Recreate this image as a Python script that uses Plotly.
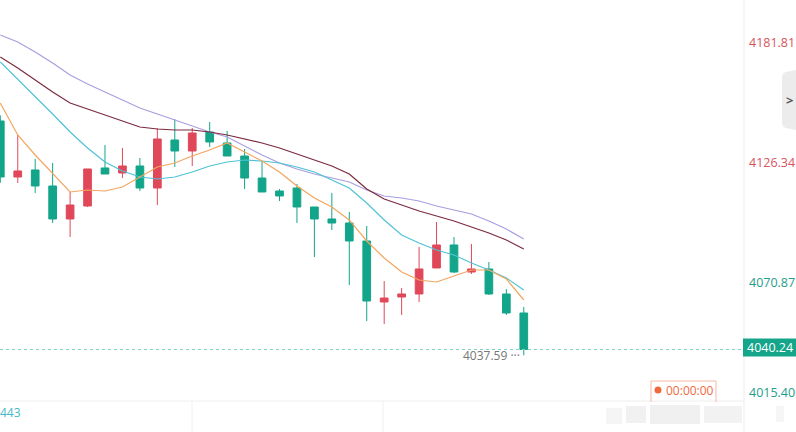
import plotly.graph_objects as go

W, H = 796, 432

# ---------------- data ----------------
idx = list(range(31))
opens = [4145.46, 4119.67, 4122.90, 4115.53, 4100.34, 4106.32, 4123.82, 4121.51, 4124.74, 4114.61,
         4136.71, 4131.64, 4140.39, 4135.33, 4129.34, 4119.21, 4113.23, 4114.61, 4105.86, 4100.34,
         4098.49, 4090.21, 4062.12, 4064.42, 4065.81, 4077.78, 4088.37, 4075.93, 4077.32, 4065.81,
         4057.06]
highs = [4148.00, 4139.01, 4127.96, 4126.12, 4112.77, 4123.36, 4134.41, 4133.02, 4128.42, 4142.23,
         4146.38, 4142.23, 4145.00, 4140.85, 4132.56, 4127.04, 4114.15, 4116.45, 4105.86, 4112.31,
         4103.56, 4097.11, 4071.79, 4068.57, 4087.44, 4098.95, 4092.05, 4088.83, 4080.54, 4068.11,
         4059.82]
lows = [4117.00, 4116.91, 4112.31, 4098.49, 4092.05, 4105.86, 4121.05, 4119.21, 4113.23, 4106.78,
        4124.28, 4124.74, 4133.49, 4129.34, 4114.15, 4112.77, 4108.62, 4098.49, 4082.84, 4095.27,
        4069.95, 4053.37, 4051.99, 4056.14, 4062.12, 4077.78, 4075.47, 4075.01, 4065.35, 4056.14,
        4037.59]
closes = [4119.67, 4122.44, 4115.53, 4100.34, 4106.78, 4123.36, 4121.05, 4124.74, 4114.61, 4137.17,
          4131.64, 4139.93, 4135.79, 4129.34, 4119.21, 4112.77, 4110.93, 4105.86, 4100.34, 4098.49,
          4090.21, 4062.58, 4063.96, 4065.81, 4077.32, 4088.37, 4075.93, 4077.32, 4065.81, 4057.06,
          4040.24]

ma5 = [4153.74, 4139.01, 4129.80, 4121.05, 4112.77, 4113.69, 4113.23, 4115.07, 4119.67, 4124.28,
       4126.12, 4129.34, 4132.10, 4135.33, 4131.18, 4127.04, 4121.97, 4115.53, 4110.00, 4105.86,
       4099.88, 4090.21, 4082.38, 4075.93, 4072.25, 4071.33, 4074.09, 4076.86, 4076.86, 4072.71,
       4063.04]
ma10 = [4172.62, 4164.79, 4156.96, 4148.68, 4140.39, 4133.02, 4126.58, 4122.43, 4119.67, 4118.75,
        4119.67, 4121.97, 4124.74, 4126.58, 4127.50, 4127.04, 4126.12, 4124.28, 4121.97, 4118.29,
        4114.61, 4107.70, 4099.88, 4092.97, 4089.29, 4086.06, 4083.76, 4080.08, 4076.86, 4073.17,
        4067.65]
ma20 = [4174.92, 4169.86, 4164.33, 4158.81, 4153.74, 4150.98, 4148.22, 4145.45, 4142.69, 4141.77,
        4141.31, 4141.31, 4140.39, 4139.01, 4137.17, 4135.33, 4133.02, 4130.26, 4127.50, 4124.74,
        4121.05, 4114.15, 4109.54, 4106.78, 4104.02, 4101.72, 4099.41, 4096.65, 4093.89, 4090.67,
        4086.52]
ma30 = [4185.05, 4181.83, 4177.22, 4172.16, 4166.63, 4162.49, 4158.81, 4155.12, 4151.44, 4148.68,
        4145.92, 4143.15, 4140.39, 4138.09, 4133.94, 4129.80, 4126.12, 4123.36, 4121.05, 4119.21,
        4117.37, 4113.69, 4110.92, 4110.00, 4108.62, 4106.32, 4104.48, 4102.64, 4099.41, 4095.73,
        4091.13]

axis_labels = ["4181.81", "4126.34", "4070.87"]
axis_label_colors = ["#d9545e", "#d9545e", "#1e9e8a"]
bottom_label = "4015.40"
last_price = "4040.24"
low_label = "4037.59"
timer_text = "00:00:00"
sub_label = "443"
sub_axis_text = "15.49733"

# ---------------- styling ----------------
RED = "#e0485a"
GREEN = "#12a58a"
FONT = "Open Sans"

def px_x(p):
    return p / W

def px_y(p):
    return 1 - p / H

fig = go.Figure()

line_specs = [(ma30, "#ab9de0"), (ma20, "#7b2b3f"), (ma10, "#4ec3d6"), (ma5, "#f4a55e")]
for vals, col in line_specs:
    fig.add_trace(go.Scatter(x=idx, y=vals, mode="lines",
                             line=dict(color=col, width=1.2),
                             hoverinfo="skip", showlegend=False))

fig.add_trace(go.Candlestick(
    x=idx, open=opens, high=highs, low=lows, close=closes,
    increasing=dict(line=dict(color=RED, width=1), fillcolor=RED),
    decreasing=dict(line=dict(color=GREEN, width=1), fillcolor=GREEN),
    whiskerwidth=0, showlegend=False, hoverinfo="skip"))

y_top = 4201.16
y_bot = 4016.54

fig.update_layout(
    width=W, height=H,
    margin=dict(l=0, r=0, t=0, b=0),
    paper_bgcolor="white", plot_bgcolor="white",
    showlegend=False,
    boxgap=0.37,
    xaxis=dict(domain=[0, 744 / W], range=[-0.017, 42.62], visible=False,
               rangeslider=dict(visible=False), fixedrange=True),
    yaxis=dict(domain=[31 / H, 1], range=[y_bot, y_top], visible=False, fixedrange=True),
)

shapes = []
# right axis separator
shapes.append(dict(type="line", xref="paper", yref="paper", x0=px_x(744), x1=px_x(744),
                   y0=0, y1=1, line=dict(color="#ececec", width=1)))
# lower pane separator
shapes.append(dict(type="line", xref="paper", yref="paper", x0=0, x1=px_x(744),
                   y0=px_y(401), y1=px_y(401), line=dict(color="#eeeeee", width=1)))
for gx in (192, 383):
    shapes.append(dict(type="line", xref="paper", yref="paper", x0=px_x(gx), x1=px_x(gx),
                       y0=0, y1=px_y(401), line=dict(color="#f0f0f0", width=1)))
# last price dashed line
shapes.append(dict(type="line", xref="paper", yref="y", x0=0, x1=px_x(744),
                   y0=float(last_price), y1=float(last_price),
                   line=dict(color="#7fd3c2", width=1, dash="3px,3px")))
# last price badge
shapes.append(dict(type="rect", xref="paper", yref="paper", x0=px_x(743), x1=1,
                   y0=px_y(356.5), y1=px_y(338.5), fillcolor="#14a58b", line=dict(width=0)))
# side tab
shapes.append(dict(type="path", xref="paper", yref="paper",
                   path=f"M {px_x(796)} {px_y(70)} L {px_x(786)} {px_y(72)} Q {px_x(782)} {px_y(73)} {px_x(782)} {px_y(78)} "
                        f"L {px_x(782)} {px_y(122)} Q {px_x(782)} {px_y(127)} {px_x(786)} {px_y(128)} L {px_x(796)} {px_y(130)} Z",
                   fillcolor="#ececec", line=dict(width=0)))
# timer box
shapes.append(dict(type="path", xref="paper", yref="paper",
                   path=f"M {px_x(651)} {px_y(402)} L {px_x(651)} {px_y(381)} L {px_x(716)} {px_y(381)} L {px_x(716)} {px_y(402)}",
                   line=dict(color="#f6b8a0", width=1)))
shapes.append(dict(type="circle", xref="paper", yref="paper",
                   x0=px_x(654.5), x1=px_x(661.5), y0=px_y(393.5), y1=px_y(386.5),
                   fillcolor="#f06a3e", line=dict(width=0)))
# faint blurred watermark patches
for x0, x1, y0, y1, op in [(606, 622, 408, 424, 0.14), (626, 646, 406, 423, 0.2),
                           (650, 700, 405, 424, 0.22), (704, 742, 406, 423, 0.18),
                           (776, 784, 406, 422, 0.12)]:
    shapes.append(dict(type="rect", xref="paper", yref="paper", x0=px_x(x0), x1=px_x(x1),
                       y0=px_y(y1), y1=px_y(y0), fillcolor=f"rgba(185,185,185,{op})",
                       line=dict(width=0), layer="above"))
fig.update_layout(shapes=shapes)

ann = []
for lab, col in zip(axis_labels, axis_label_colors):
    ann.append(dict(x=px_x(747), xref="paper", xanchor="left", y=float(lab), yref="y",
                    yanchor="middle", text=lab, showarrow=False,
                    font=dict(family=FONT, size=12.5, color=col)))
ann.append(dict(x=px_x(747), xref="paper", xanchor="left", y=px_y(392), yref="paper",
                yanchor="middle", text=bottom_label, showarrow=False,
                font=dict(family=FONT, size=12.5, color="#1e9e8a")))
ann.append(dict(x=px_x(769.5), xref="paper", xanchor="center", y=px_y(347.5), yref="paper",
                yanchor="middle", text=last_price, showarrow=False,
                font=dict(family=FONT, size=12.5, color="white")))
ann.append(dict(x=idx[-1], xref="x", xanchor="right", xshift=-2, y=float(low_label), yref="y",
                yanchor="middle", text=low_label + " ···", showarrow=False,
                font=dict(family=FONT, size=12, color="#777777")))
ann.append(dict(x=px_x(664), xref="paper", xanchor="left", y=px_y(390), yref="paper",
                yanchor="middle", text=timer_text, showarrow=False,
                font=dict(family=FONT, size=12, color="#f06a3e")))
ann.append(dict(x=px_x(789), xref="paper", xanchor="center", y=px_y(100), yref="paper",
                yanchor="middle", text="<b>&gt;</b>", showarrow=False,
                font=dict(family=FONT, size=13, color="#555555")))
ann.append(dict(x=0, xref="paper", xanchor="left", xshift=-2, y=px_y(412), yref="paper",
                yanchor="middle", text=sub_label, showarrow=False,
                font=dict(family=FONT, size=12, color="#45b8c9")))
ann.append(dict(x=px_x(742), xref="paper", xanchor="left", y=px_y(426), yref="paper",
                yanchor="top", text=sub_axis_text, showarrow=False,
                font=dict(family=FONT, size=12, color="#888888")))
fig.update_layout(annotations=ann)

fig.write_html("out.html", config=dict(displayModeBar=False, staticPlot=True))
